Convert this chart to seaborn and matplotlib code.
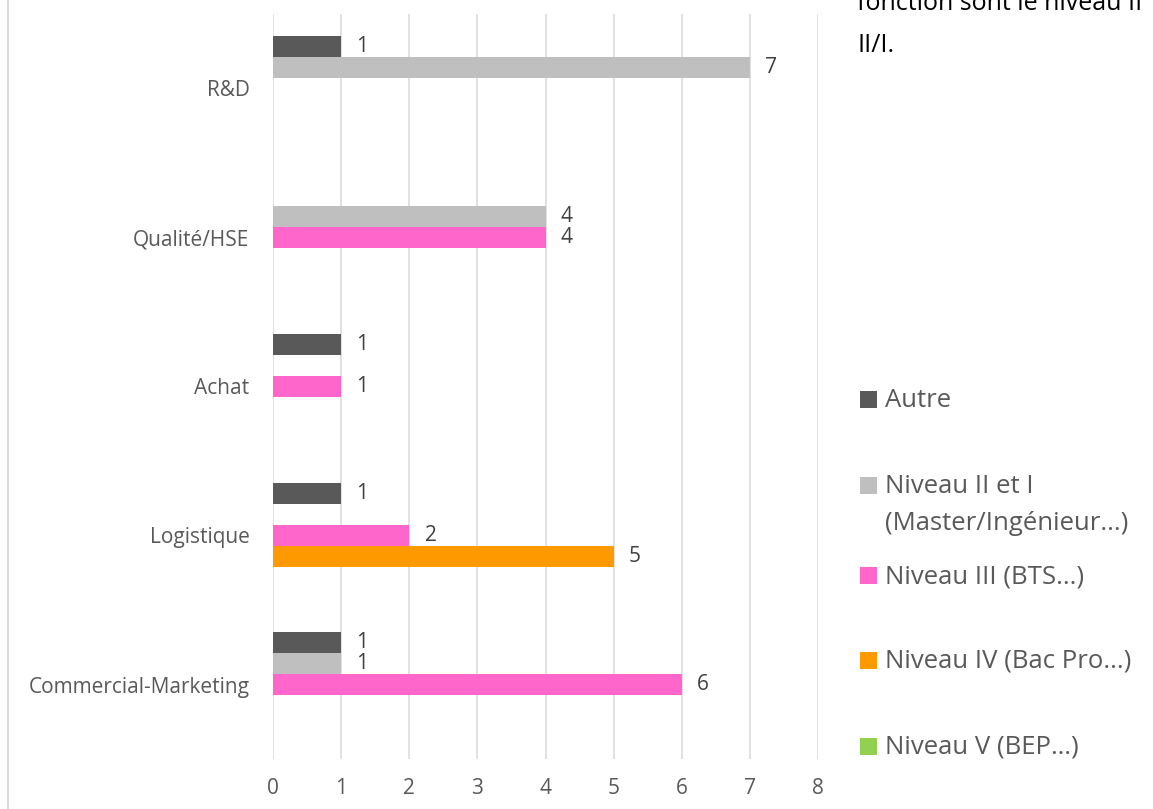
import pandas as pd
import numpy as np
import matplotlib.pyplot as plt
import matplotlib.patches as mpatches
import matplotlib.lines as mlines
import seaborn as sns

# --- Data ---
categories = ['R&D', 'Qualité/HSE', 'Achat', 'Logistique', 'Commercial-Marketing']
levels = ['Autre', 'Niveau II et I\n(Master/Ingénieur...)', 'Niveau III (BTS...)',
          'Niveau IV (Bac Pro...)', 'Niveau V (BEP…)']
autre = [1, 0, 1, 1, 1]
niveau_2 = [7, 4, 0, 0, 1]
niveau_3 = [0, 4, 1, 2, 6]
niveau_4 = [0, 0, 0, 5, 0]
niveau_5 = [0, 0, 0, 0, 0]
x_ticks = [0, 1, 2, 3, 4, 5, 6, 7, 8]

colors = ['#595959', '#BFBFBF', '#FF66CC', '#FF9900', '#92D050']

# long table for seaborn
series = [autre, niveau_2, niveau_3, niveau_4, niveau_5]
rows = []
for lvl, vals in zip(levels, series):
    for cat, v in zip(categories, vals):
        rows.append({'categorie': cat, 'niveau': lvl, 'valeur': v})
df = pd.DataFrame(rows)

# --- Plot ---
sns.set_style('white')
plt.rcParams['font.family'] = ['Open Sans', 'DejaVu Sans']

fig = plt.figure(figsize=(11.53, 8.09), dpi=100)
ax = fig.add_axes([273 / 1153, 1 - 759 / 809, 545 / 1153, 745 / 809])

sns.barplot(data=df, x='valeur', y='categorie', hue='niveau',
            order=categories, hue_order=levels, palette=colors,
            orient='h', width=0.705, saturation=1, dodge=True,
            linewidth=0, errorbar=None, ax=ax)

ax.legend_.remove()

ax.set_xlim(0, 8)
ax.set_ylim(4.5, -0.5)
ax.set_xticks(x_ticks)
ax.set_xlabel('')
ax.set_ylabel('')
ax.grid(axis='x', color='#d9d9d9', linewidth=1.1)
ax.set_axisbelow(True)
for s in ax.spines.values():
    s.set_visible(False)
ax.tick_params(axis='x', length=0, pad=14, labelsize=15, labelcolor='#595959')
ax.tick_params(axis='y', length=0, pad=17, labelsize=15, labelcolor='#595959')

# value labels, skip empty bars
for cont in ax.containers:
    labs = [f'{int(b.get_width())}' if b.get_width() > 0 else '' for b in cont]
    ax.bar_label(cont, labels=labs, padding=11, fontsize=15, color='#404040')

# legend drawn by hand to match the spread-out layout
leg_x = 860 / 1153
leg_items = [(levels[0], 400), (levels[1], 486), (levels[2], 576),
             (levels[3], 661), (levels[4], 747)]
for (lab, ypx), col in zip(leg_items, colors):
    fig.patches.append(mpatches.Rectangle((leg_x, 1 - (ypx + 8) / 809), 17 / 1153, 17 / 809,
                                          transform=fig.transFigure, facecolor=col,
                                          edgecolor='none'))
    fig.text(885 / 1153, 1 - (ypx - 12) / 809, lab, fontsize=18.5, color='#595959',
             va='top', ha='left', linespacing=1.65)

# left border of the chart frame
fig.add_artist(mlines.Line2D([8 / 1153, 8 / 1153], [0, 1], transform=fig.transFigure,
                             color='#d9d9d9', linewidth=1.5))

# cut-off text from the surrounding page
fig.text(857 / 1153, 1 - 10 / 809, 'fonction sont le niveau II', fontsize=18,
         color='black', va='baseline', ha='left')
fig.text(857 / 1153, 1 - 52 / 809, 'II/I.', fontsize=18, color='black',
         va='baseline', ha='left')

fig.savefig('out.png', dpi=100)
